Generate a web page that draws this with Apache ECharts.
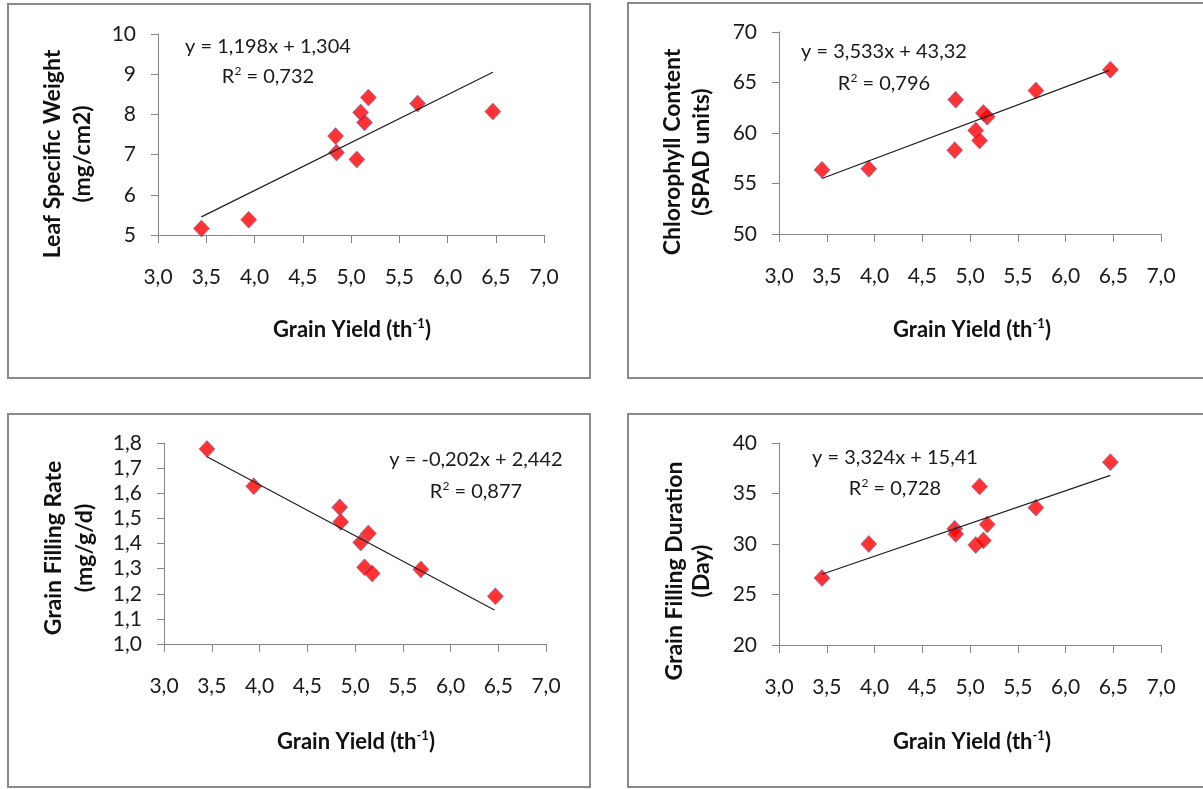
<!DOCTYPE html>
<html>
<head>
<meta charset="utf-8">
<script src="https://cdn.jsdelivr.net/npm/echarts@6/dist/echarts.min.js"></script>
<style>
html,body{margin:0;padding:0;background:#fff;}
#chart{width:1203px;height:789px;}
</style>
</head>
<body>
<div id="chart"></div>
<script>
// grain yield (t/h) - same genotypes in all four panels
var grainYield=[3.45,3.94,4.84,4.85,5.06,5.10,5.14,5.18,5.69,6.47];
var leafWeight=[5.16,5.38,7.46,7.05,6.88,8.05,7.80,8.42,8.27,8.07];
var chlorophyll=[56.35,56.45,58.3,63.3,60.25,59.25,61.97,61.6,64.2,66.27];
var fillRate=[1.776,1.628,1.544,1.486,1.404,1.305,1.44,1.281,1.297,1.19];
var fillDuration=[26.63,30.0,31.5,31.0,29.9,35.7,30.35,31.94,33.6,38.1];
// trendline ends
var trend1=[[3.45,5.45],[6.47,9.05]];
var trend2=[[3.45,55.5],[6.46,66.2]];
var trend3=[[3.45,1.745],[6.46,1.135]];
var trend4=[[3.45,27.0],[6.47,36.8]];
var eqText=['y = 1,198x + 1,304','y = 3,533x + 43,32','y = -0,202x + 2,442','y = 3,324x + 15,41'];
var r2Text=['0,732','0,796','0,877','0,728'];
var yTitle1=['Leaf Specific Weight','Chlorophyll Content','Grain Filling Rate','Grain Filling Duration'];
var yTitle2=['(mg/cm2)','(SPAD units)','(mg/g/d)','(Day)'];
var yRange=[[5,10,1],[50,70,5],[1.0,1.8,0.1],[20,40,5]];

var FONT='Lato';
var axisColor='#868686';
var chart=echarts.init(document.getElementById('chart'));

function pts(ys){
    var d=[];
    for(var i=0;i<grainYield.length;i++){
        d.push([grainYield[i],ys[i]]);
    }
    return d;
}
function comma(v,dec){
    return v.toFixed(dec).replace('.',',');
}

var grids=[
    {left:158,top:34,width:386,height:201},
    {left:779,top:32,width:382,height:202},
    {left:164,top:443,width:382,height:201},
    {left:779,top:443,width:382,height:202}
];
var xAxes=[],yAxes=[],series=[];
var allY=[leafWeight,chlorophyll,fillRate,fillDuration];
var trends=[trend1,trend2,trend3,trend4];
for(var g=0;g<4;g++){
    xAxes.push({
        type:'value',gridIndex:g,min:3,max:7,interval:0.5,
        axisLine:{onZero:false,lineStyle:{color:axisColor,width:1}},
        axisTick:{length:8,lineStyle:{color:axisColor}},
        splitLine:{show:false},
        axisLabel:{margin:32,fontFamily:FONT,fontSize:21,color:'#1a1a1a',
            formatter:function(v){return comma(v,1);}}
    });
    yAxes.push({
        type:'value',gridIndex:g,min:yRange[g][0],max:yRange[g][1],interval:yRange[g][2],
        axisLine:{show:true,onZero:false,lineStyle:{color:axisColor,width:1}},
        axisTick:{show:true,length:7,lineStyle:{color:axisColor}},
        splitLine:{show:false},
        axisLabel:{margin:22,fontFamily:FONT,fontSize:21,color:'#1a1a1a',
            formatter:(g==2)?function(v){return comma(v,1);}:function(v){return String(Math.round(v));}}
    });
    series.push({
        type:'scatter',xAxisIndex:g,yAxisIndex:g,
        symbol:'diamond',symbolSize:[16,17],
        itemStyle:{color:'#ff0000',borderColor:'#7478b8',borderWidth:0.8},
        data:pts(allY[g]),z:3
    });
    series.push({
        type:'line',xAxisIndex:g,yAxisIndex:g,
        symbol:'none',silent:true,
        lineStyle:{color:'#1e1e1e',width:1.2},
        data:trends[g],z:4
    });
}

// text positions: [eq x, eq y, r2 y, xTitle x, xTitle y, yTitle line1 x, line2 x, yTitle y]
var txtPos=[
    [268,47,77,352,330,53,83,154],
    [884,52,84,972,330,673,702,152],
    [476,460,492,356,742,54,85,548],
    [895,458,489,972,742,675,702,571]
];
var graphic=[];
var boxes=[[8,4,582,374],[628,3,600,375],[8,414,582,373],[628,414,600,373]];
for(var b=0;b<boxes.length;b++){
    graphic.push({type:'rect',silent:true,
        shape:{x:boxes[b][0],y:boxes[b][1],width:boxes[b][2],height:boxes[b][3]},
        style:{fill:'none',stroke:'#8a8a8a',lineWidth:2}});
}
for(var k=0;k<4;k++){
    var p=txtPos[k];
    graphic.push({type:'text',x:p[0],y:p[1],silent:true,
        style:{text:eqText[k],fontFamily:FONT,fontSize:20,fill:'#1a1a1a',align:'center',verticalAlign:'middle'}});
    graphic.push({type:'text',x:p[0],y:p[2],silent:true,
        style:{text:'{n|R}{s|2}{n| = '+r2Text[k]+'}',align:'center',verticalAlign:'middle',
            rich:{n:{fontFamily:FONT,fontSize:20,fill:'#1a1a1a',lineHeight:24},
                  s:{fontFamily:FONT,fontSize:12,fill:'#1a1a1a',verticalAlign:'top',lineHeight:14}}}});
    graphic.push({type:'text',x:p[3],y:p[4],silent:true,
        style:{text:'{n|Grain Yield (th}{s|-1}{n|)}',align:'center',verticalAlign:'middle',
            rich:{n:{fontFamily:FONT,fontSize:22,fontWeight:'bold',fill:'#111',lineHeight:26},
                  s:{fontFamily:FONT,fontSize:13,fontWeight:'bold',fill:'#111',verticalAlign:'top',lineHeight:15}}}});
    graphic.push({type:'text',x:p[5],y:p[7],rotation:Math.PI/2,silent:true,
        style:{text:yTitle1[k],fontFamily:FONT,fontSize:23,fontWeight:'bold',fill:'#111',align:'center',verticalAlign:'middle'}});
    graphic.push({type:'text',x:p[6],y:p[7],rotation:Math.PI/2,silent:true,
        style:{text:yTitle2[k],fontFamily:FONT,fontSize:23,fontWeight:'bold',fill:'#111',align:'center',verticalAlign:'middle'}});
}

var option={
    animation:false,
    backgroundColor:'#fff',
    grid:grids,
    xAxis:xAxes,
    yAxis:yAxes,
    series:series,
    graphic:graphic
};
chart.setOption(option);
</script>
</body>
</html>
